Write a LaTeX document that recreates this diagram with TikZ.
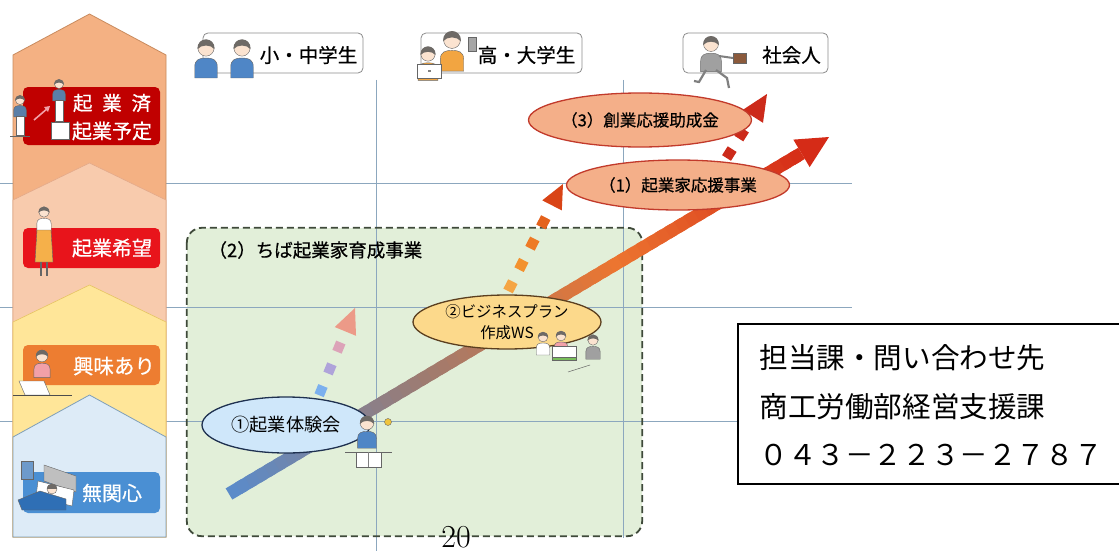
\documentclass[tikz,border=0pt]{standalone}
\usepackage{fontspec}
\newfontfamily\jp{Noto Sans CJK JP}
\newfontfamily\jpm[FakeBold=0.6]{Noto Sans CJK JP}
\usetikzlibrary{shapes.geometric,calc}

% palette
\definecolor{gridc}{HTML}{8CA7BE}
\definecolor{bandA}{HTML}{F4B183}
\definecolor{bandAedge}{HTML}{C98B5E}
\definecolor{bandB}{HTML}{F8CBAD}
\definecolor{bandBedge}{HTML}{E3A98A}
\definecolor{bandC}{HTML}{FFE699}
\definecolor{bandCedge}{HTML}{E6C462}
\definecolor{bandD}{HTML}{DDEBF7}
\definecolor{bandDedge}{HTML}{7F9FB8}
\definecolor{lblA}{HTML}{C00000}
\definecolor{lblB}{HTML}{E8141B}
\definecolor{lblC}{HTML}{ED7D31}
\definecolor{lblD}{HTML}{4A8FD3}
\definecolor{greenfill}{HTML}{E2EFD9}
\definecolor{greenedge}{HTML}{3F4A3A}
\definecolor{eOnefill}{HTML}{CFE7FA}
\definecolor{eOneedge}{HTML}{1F3150}
\definecolor{eTwofill}{HTML}{FCD98B}
\definecolor{eTwoedge}{HTML}{5B3F1F}
\definecolor{eThreefill}{HTML}{F4AF89}
\definecolor{eThreeedge}{HTML}{C23A2B}
\definecolor{tagedge}{HTML}{8C8C8C}
\definecolor{mA}{HTML}{5B8BC9}
\definecolor{mB}{HTML}{9E7B70}
\definecolor{mC}{HTML}{EC7530}
\definecolor{mD}{HTML}{D52B17}
\definecolor{dotAhead}{HTML}{EC9A88}
\definecolor{dotBhead}{HTML}{D94416}
\definecolor{dotCred}{HTML}{CC2A1A}
\definecolor{skin}{HTML}{FBE3D0}
\definecolor{hairc}{HTML}{6E6A66}
\definecolor{kidblue}{HTML}{4F86C6}
\definecolor{teenorange}{HTML}{F2A541}
\definecolor{suitgrey}{HTML}{A0A0A0}
\definecolor{bagbrown}{HTML}{8B5A3C}
\definecolor{denim}{HTML}{5A7FA8}
\definecolor{skirtorange}{HTML}{F5B04A}
\definecolor{sweaterpink}{HTML}{F2A0A8}
\definecolor{blanketblue}{HTML}{2F6FB5}
\definecolor{bulbyellow}{HTML}{F0C43C}
\definecolor{mapgreen}{HTML}{78BE5A}

\tikzset{
  fs/.style={font=\jp\fontsize{#1}{#1}\selectfont},
  fsm/.style={font=\jpm\fontsize{#1}{#1}\selectfont},
  gridrule/.style={draw=gridc, line width=0.9pt},
  tag/.style={draw=tagedge, fill=white, rounded corners=5pt, line width=0.8pt,
    minimum height=40, inner sep=0pt},
  stagebox/.style={rounded corners=5pt, inner sep=0pt, minimum width=137},
  stagetext/.style={text=white, fsm=20},
  bubble/.style={ellipse, draw, line width=1.3pt, inner sep=0pt},
  outline/.style={draw=black!60, line width=0.4pt},
  pics/person/.style={code={
    \fill[#1, outline] (-9,24) -- (-9,15) .. controls (-9,9) and (-5,8) .. (0,8)
      .. controls (5,8) and (9,9) .. (9,15) -- (9,24) -- cycle;
    \filldraw[fill=skin, outline] (0,0) circle (6.5);
    \fill[hairc] (-6.8,1) .. controls (-7.5,-9.5) and (7.5,-9.5) .. (6.8,1)
      .. controls (4,-3) and (-4,-3) .. cycle;
  }}
}

\begin{document}
\begin{tikzpicture}[x=1pt,y=-1pt]
\useasboundingbox (0,0) rectangle (1119,551);
\fill[white] (0,0) rectangle (1119,551);

% ---------- programme area (2) ----------
\node[fill=greenfill, rounded corners=15pt, minimum width=455, minimum height=308,
      inner sep=0pt] (ikusei) at (414.5,382) {};

% ---------- grid ----------
\draw[gridrule] (0,183) -- (852,183);
\draw[gridrule] (0,307) -- (852,307);
\draw[gridrule] (0,421) -- (852,421);
\draw[gridrule] (376,80) -- (376,551);
\draw[gridrule] (623,80) -- (623,538);

\draw[greenedge, line width=1.8pt, dash pattern=on 7pt off 4pt, rounded corners=15pt]
  (ikusei.north west) rectangle (ikusei.south east);
\node[fsm=18.5, anchor=west] (ikuseilabel) at (205,250) {（2）ちば起業家育成事業};

% ---------- stage column ----------
\filldraw[fill=bandA, draw=bandAedge, line width=0.8pt]
  (13,537) -- (13,55) -- (89.5,14) -- (166,55) -- (166,537) -- cycle;
\filldraw[fill=bandB, draw=bandBedge, line width=0.6pt]
  (13,537) -- (13,200) -- (89.5,163) -- (166,200) -- (166,537) -- cycle;
\filldraw[fill=bandC, draw=bandCedge, line width=0.6pt]
  (13,537) -- (13,322) -- (89.5,285) -- (166,322) -- (166,537) -- cycle;
\filldraw[fill=bandD, draw=bandDedge, line width=0.8pt]
  (13,537) -- (13,437) -- (89.5,395) -- (166,437) -- (166,537) -- cycle;

\node[stagebox, fill=lblA, minimum height=58] (stageA) at (91.5,116) {};
\node[stagebox, fill=lblB, minimum height=40] (stageB) at (91.5,248) {};
\node[stagebox, fill=lblC, minimum height=40] (stageC) at (91.5,365) {};
\node[stagebox, fill=lblD, minimum height=41] (stageD) at (91.5,492.5) {};

\node[stagetext, fsm=19.5] (stageAone) at (112,103) {起\hspace{0.5em}業\hspace{0.5em}済};
\node[stagetext] (stageAtwo) at (112,131) {起業予定};
\node[stagetext] (stageBtext) at (112,248) {起業希望};
\node[stagetext, fsm=20.5] (stageCtext) at (114,366) {興味あり};
\node[stagetext] (stageDtext) at (112,493) {無関心};

% figures in the stage column
\path (20,100) pic[scale=0.7] {person=denim};
\filldraw[fill=white, outline] (16,116) rectangle (24,135);
\draw[black!60, line width=0.5pt] (10,136) -- (30,136);
\draw[sweaterpink, line width=1.6pt] (34,120) -- (48,108);
\fill[sweaterpink] (50,106) -- (44,107) -- (48,112) -- cycle;
\filldraw[fill=white, outline] (51,122) rectangle (69,139);
\path (59,84) pic[scale=0.7] {person=denim};
\filldraw[fill=white, outline] (55,100) rectangle (63,121);

\path (44,212) pic[scale=0.8] {person=white};
\filldraw[fill=skirtorange, outline] (37,230) -- (51,230) -- (53,262) -- (35,262) -- cycle;
\draw[black!60, line width=1.2pt] (41,262) -- (41,276) (47,262) -- (47,276);

\path (42,356) pic[scale=0.9] {person=sweaterpink};
\filldraw[fill=white, outline] (19,381) -- (44,381) -- (50,395) -- (25,395) -- cycle;
\draw[black!70, line width=0.6pt] (13,395) -- (72,395);

\filldraw[fill=blanketblue!70, outline] (21,461) rectangle (33,479);
\filldraw[fill=black!25, outline] (44,465) -- (76,476) -- (76,492) -- (44,481) -- cycle;
\filldraw[fill=white, outline] (38,481) -- (74,490) -- (72,506) -- (36,497) -- cycle;
\filldraw[fill=skin, outline] (52,489) circle (5);
\fill[hairc] (47,489) .. controls (47,482) and (57,482) .. (57,489) -- cycle;
\filldraw[fill=blanketblue, outline] (18,500) -- (40,491) -- (66,499) -- (66,510) -- (22,510) -- cycle;

% ---------- audience tags ----------
\node[tag, minimum width=160] (tagkids) at (283,53) {};
\node[tag, minimum width=161] (tagteens) at (501.5,53) {};
\node[tag, minimum width=145] (tagadults) at (755.5,53) {};
\node[fsm=19.5] (tagkidstext) at (308.5,55) {小・中学生};
\node[fsm=19.5] (tagteenstext) at (526.5,55) {高・大学生};
\node[fsm=19.5] (tagadultstext) at (791.5,55) {社会人};

\path (206,48) pic[scale=1.25] {person=kidblue};
\path (242,48) pic[scale=1.25] {person=kidblue};

\path (452,40) pic[scale=1.3] {person=teenorange};
\filldraw[fill=black!35, outline] (468,37) rectangle (476,51);
\path (428,54) pic[scale=1.1] {person=teenorange};
\filldraw[fill=white, outline] (417,64) rectangle (441,78);
\fill[black!50] (427.5,70) rectangle (430.5,72);

\path (711,44) pic[scale=1.15] {person=suitgrey};
\draw[suitgrey!80!black, line width=2.2pt] (706,70) -- (699,82) -- (694,81);
\draw[suitgrey!80!black, line width=2.2pt] (716,70) -- (727,78) -- (729,88);
\draw[suitgrey!80!black, line width=2pt] (719,56) -- (733,58);
\filldraw[fill=bagbrown, outline] (733,53) rectangle (746,63);

% ---------- growth arrow ----------
\coordinate (mS) at (229,494);
\coordinate (mT) at (829,137);
\coordinate (mE) at ($(mT)!32pt!(mS)$);
\foreach \i in {0,...,59}{
  \pgfmathsetmacro\ta{\i/60}
  \pgfmathsetmacro\tb{min((\i+1.6)/60,1)}
  \ifnum\i<20
    \pgfmathtruncatemacro\p{100-\i*5}\colorlet{segc}{mA!\p!mB}
  \else\ifnum\i<40
    \pgfmathtruncatemacro\p{100-(\i-20)*5}\colorlet{segc}{mB!\p!mC}
  \else
    \pgfmathtruncatemacro\p{100-(\i-40)*5}\colorlet{segc}{mC!\p!mD}
  \fi\fi
  \draw[segc, line width=13pt] ($(mS)!\ta!(mE)$) -- ($(mS)!\tb!(mE)$);
}
\fill[mD] (mT) -- ($(mE)!16pt!90:(mT)$) -- ($(mE)!16pt!-90:(mT)$) -- cycle;

% ---------- dotted step-up arrows ----------
% from (1) experience
\coordinate (dAs) at (318,398);
\coordinate (dAt) at (355,308);
\foreach \d/\c in {8/7BB0EE, 31.5/AFA3DA, 55/DCA3B8}{
  \definecolor{dotc}{HTML}{\c}
  \draw[dotc, line width=10pt] ($(dAs)!\d pt-5pt!(dAt)$) -- ($(dAs)!\d pt+5pt!(dAt)$);
}
\coordinate (dAb) at ($(dAs)!72pt!(dAt)$);
\fill[dotAhead] (dAt) -- ($(dAb)!11.5pt!90:(dAt)$) -- ($(dAb)!11.5pt!-90:(dAt)$) -- cycle;

% from the business-plan workshop
\coordinate (dBs) at (505,297);
\coordinate (dBt) at (563,184);
\foreach \d/\c in {12/F5A544, 36/F3922F, 60/EE7A25, 84/E4621C}{
  \definecolor{dotc}{HTML}{\c}
  \draw[dotc, line width=10.5pt] ($(dBs)!\d pt-5.25pt!(dBt)$) -- ($(dBs)!\d pt+5.25pt!(dBt)$);
}
\coordinate (dBb) at ($(dBs)!103pt!(dBt)$);
\fill[dotBhead] (dBt) -- ($(dBb)!11pt!90:(dBt)$) -- ($(dBb)!11pt!-90:(dBt)$) -- cycle;

% from the entrepreneur support programme
\coordinate (dCs) at (724,162);
\coordinate (dCt) at (767,94);
\foreach \d in {10,33}{
  \draw[dotCred, line width=10.5pt]
    ($(dCs)!\d pt-5.25pt!(dCt)$) -- ($(dCs)!\d pt+5.25pt!(dCt)$);
}
\coordinate (dCb) at ($(dCs)!54pt!(dCt)$);
\fill[dotCred] (dCt) -- ($(dCb)!12pt!90:(dCt)$) -- ($(dCb)!12pt!-90:(dCt)$) -- cycle;

% ---------- programme bubbles ----------
\node[bubble, fill=eOnefill, draw=eOneedge, minimum width=168, minimum height=56, fs=18.2]
  (taiken) at (286,425) {①起業体験会};
\node[bubble, fill=eTwofill, draw=eTwoedge, minimum width=188, minimum height=54,
      font=\jp\fontsize{15.4}{21}\selectfont, align=center]
  (wsplan) at (507,322) {②ビジネスプラン\\作成WS};
\node[bubble, fill=eThreefill, draw=eThreeedge, minimum width=190, minimum height=50, fsm=16.5]
  (ouen) at (678,185) {（1）起業家応援事業};
\node[bubble, fill=eThreefill, draw=eThreeedge, minimum width=190, minimum height=54, fsm=16.5]
  (josei) at (640,120) {（3）創業応援助成金};

% student at a desk
\path (367,423) pic[scale=1.05] {person=kidblue};
\draw[black!60, line width=0.5pt] (345,452) -- (392,452);
\filldraw[fill=white, outline] (356,452) rectangle (381,467);
\draw[black!50, line width=0.4pt] (368.5,452) -- (368.5,467);
\filldraw[fill=bulbyellow, outline] (388,422) circle (3.5);

% workshop group
\path (543,337) pic[scale=0.75] {person=white};
\path (561,336) pic[scale=0.75] {person=sweaterpink};
\filldraw[fill=white, outline] (552,346) rectangle (576,357);
\filldraw[fill=mapgreen, outline] (552,357) rectangle (576,360);
\path (593,340) pic[scale=0.8] {person=suitgrey};
\draw[black!60, line width=0.5pt] (568,372) -- (590,365);

% ---------- contact box ----------
\node[draw=black, line width=1.5pt, fill=white, minimum width=390, minimum height=160,
      anchor=north west, inner sep=0pt] (contact) at (737,323) {};
\node[fs=28.6, anchor=west] (contactA) at (756,358) {担当課・問い合わせ先};
\node[fs=28.6, anchor=west] (contactB) at (756,407) {商工労働部経営支援課};
\node[fs=28.6, anchor=west] (contactC) at (756,455) {０４３－２２３－２７８７};

% ---------- page number ----------
\node[font=\rmfamily\fontsize{32}{32}\selectfont, anchor=north, inner sep=0pt]
  (pagenum) at (456,526) {20};
\end{tikzpicture}
\end{document}
